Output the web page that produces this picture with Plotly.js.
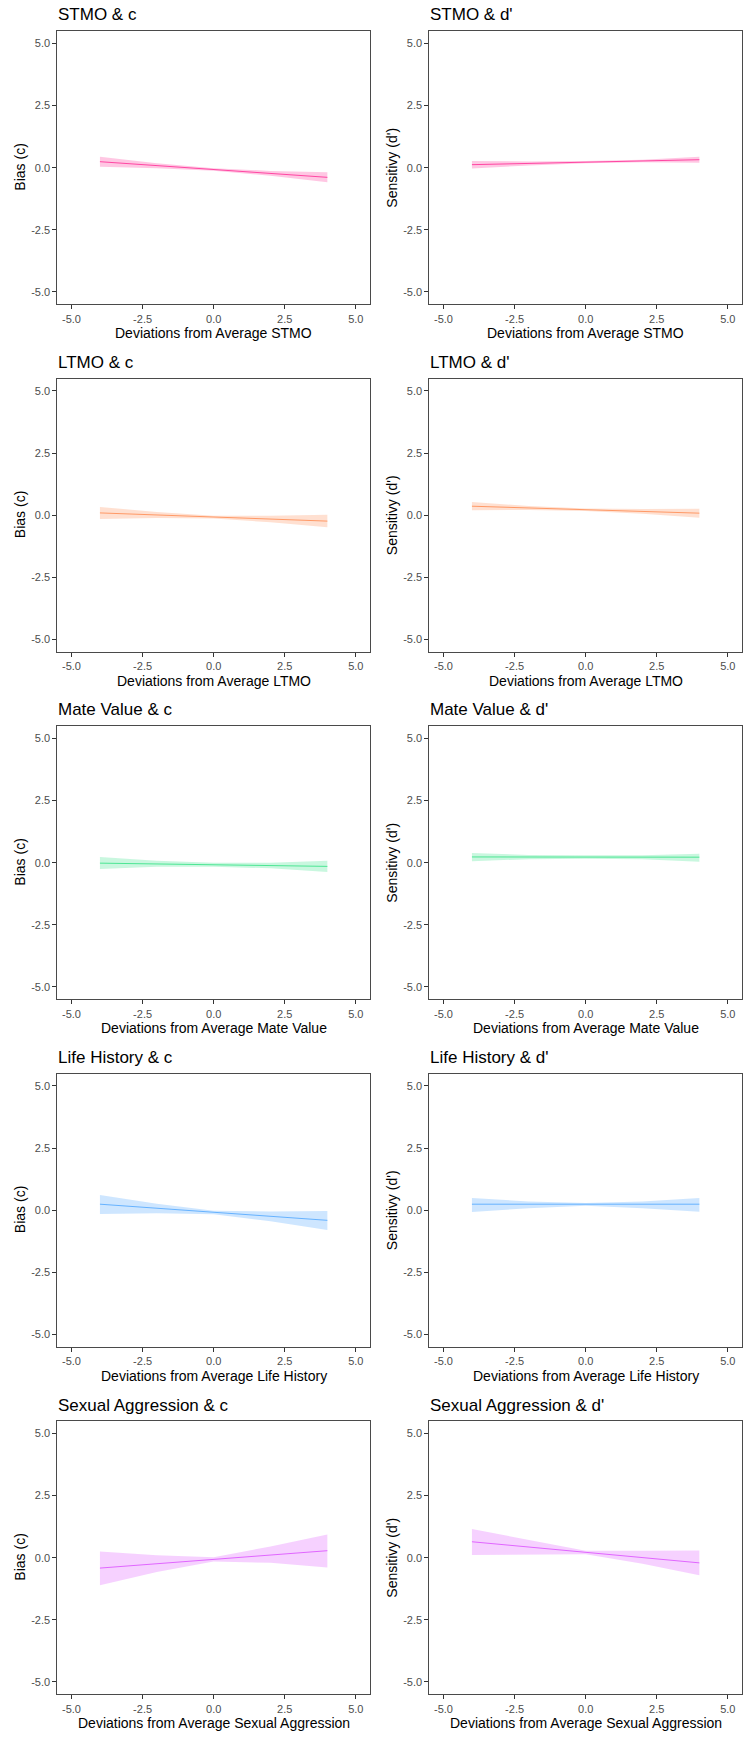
<!DOCTYPE html>
<html>
<head>
<meta charset="utf-8">
<script src="https://cdn.plot.ly/plotly-3.0.1.min.js"></script>
<style>body{margin:0;background:#fff}#chart{width:744px;height:1742px}</style>
</head>
<body>
<div id="chart"></div>
<script>
// ---- data ----
const xGrid = [-4, -2, 0, 2, 4];
const predictors = ["STMO", "LTMO", "Mate Value", "Life History", "Sexual Aggression"];
const outcomes = ["c", "d'"];
const yTitles = ["Bias (c)", "Sensitivy (d')"];
const tickVals = [-5, -2.5, 0, 2.5, 5];
const tickText = ["-5.0", "-2.5", "0.0", "2.5", "5.0"];

// STMO
const stmoC_fit = [0.24, 0.08, -0.07, -0.23, -0.39];
const stmoC_hi  = [0.44, 0.18, -0.02, -0.13, -0.19];
const stmoC_lo  = [0.04, -0.02, -0.12, -0.33, -0.59];
const stmoD_fit = [0.12, 0.17, 0.22, 0.27, 0.32];
const stmoD_hi  = [0.27, 0.25, 0.27, 0.32, 0.44];
const stmoD_lo  = [-0.03, 0.09, 0.18, 0.22, 0.20];
// LTMO
const ltmoC_fit = [0.09, 0.01, -0.07, -0.15, -0.24];
const ltmoC_hi  = [0.33, 0.13, -0.02, -0.02, 0.02];
const ltmoC_lo  = [-0.15, -0.11, -0.13, -0.29, -0.49];
const ltmoD_fit = [0.36, 0.29, 0.22, 0.15, 0.08];
const ltmoD_hi  = [0.53, 0.37, 0.27, 0.25, 0.26];
const ltmoD_lo  = [0.20, 0.21, 0.17, 0.06, -0.10];
// Mate Value
const mvC_fit = [-0.02, -0.05, -0.08, -0.12, -0.15];
const mvC_hi  = [0.23, 0.08, 0.00, 0.00, 0.08];
const mvC_lo  = [-0.26, -0.17, -0.16, -0.23, -0.38];
const mvD_fit = [0.23, 0.23, 0.23, 0.22, 0.22];
const mvD_hi  = [0.39, 0.31, 0.30, 0.30, 0.36];
const mvD_lo  = [0.06, 0.14, 0.16, 0.14, 0.04];
// Life History
const lhC_fit = [0.24, 0.08, -0.09, -0.25, -0.41];
const lhC_hi  = [0.61, 0.26, -0.02, -0.05, -0.03];
const lhC_lo  = [-0.15, -0.12, -0.16, -0.45, -0.80];
const lhD_fit = [0.24, 0.24, 0.24, 0.24, 0.24];
const lhD_hi  = [0.49, 0.35, 0.29, 0.35, 0.49];
const lhD_lo  = [-0.07, 0.08, 0.18, 0.08, -0.06];
// Sexual Aggression
const saC_fit = [-0.42, -0.24, -0.07, 0.11, 0.28];
const saC_hi  = [0.25, 0.10, 0.02, 0.45, 0.93];
const saC_lo  = [-1.11, -0.58, -0.15, -0.21, -0.40];
const saD_fit = [0.64, 0.42, 0.21, 0.00, -0.21];
const saD_hi  = [1.15, 0.70, 0.28, 0.28, 0.29];
const saD_lo  = [0.11, 0.14, 0.14, -0.25, -0.71];

const lineColors = ["#FF47A3", "#FF9966", "#4DE694", "#66B2FF", "#E066FF"];
const fillColors = ["rgba(255,71,163,0.30)", "rgba(255,153,102,0.30)", "rgba(77,230,148,0.30)", "rgba(102,178,255,0.32)", "rgba(224,102,255,0.30)"];

const panels = [
  [stmoC_fit, stmoC_hi, stmoC_lo], [stmoD_fit, stmoD_hi, stmoD_lo],
  [ltmoC_fit, ltmoC_hi, ltmoC_lo], [ltmoD_fit, ltmoD_hi, ltmoD_lo],
  [mvC_fit, mvC_hi, mvC_lo], [mvD_fit, mvD_hi, mvD_lo],
  [lhC_fit, lhC_hi, lhC_lo], [lhD_fit, lhD_hi, lhD_lo],
  [saC_fit, saC_hi, saC_lo], [saD_fit, saD_hi, saD_lo]
];

// ---- layout geometry (px) ----
const W = 744, H = 1742;
const colLeft = [57.3, 429.3], colW = 312.7;
const rowTop0 = 31, rowPitch = 347.5, panelH = 273.3;
const FONT = "Liberation Sans, Arial, sans-serif";

const traces = [];
const layout = {
  width: W, height: H,
  margin: {l: 0, r: 0, t: 0, b: 0},
  paper_bgcolor: "#fff", plot_bgcolor: "#fff",
  showlegend: false,
  font: {family: FONT},
  annotations: []
};

panels.forEach((p, i) => {
  const row = Math.floor(i / 2), col = i % 2;
  const n = i + 1;
  const xa = n === 1 ? "x" : "x" + n, ya = n === 1 ? "y" : "y" + n;
  const fit = p[0], hi = p[1], lo = p[2];
  const lc = lineColors[row], fc = fillColors[row];

  traces.push({
    type: "scatter", mode: "lines", xaxis: xa, yaxis: ya,
    x: xGrid.concat(xGrid.slice().reverse()),
    y: hi.concat(lo.slice().reverse()),
    fill: "toself", fillcolor: fc, line: {width: 0}, hoverinfo: "skip"
  });
  traces.push({
    type: "scatter", mode: "lines", xaxis: xa, yaxis: ya,
    x: xGrid, y: fit, line: {color: lc, width: 1}
  });

  const left = colLeft[col], top = rowTop0 + row * rowPitch;
  const axBase = {
    range: [-5.5, 5.5], tickvals: tickVals, ticktext: tickText,
    showgrid: false, zeroline: false, showline: true, mirror: true,
    linecolor: "#4a4a4a", linewidth: 1,
    ticks: "outside", ticklen: 4, tickwidth: 1, tickcolor: "#333",
    tickfont: {family: FONT, size: 11, color: "#4d4d4d"},
    fixedrange: true
  };
  layout["xaxis" + (n === 1 ? "" : n)] = Object.assign({}, axBase, {
    domain: [left / W, (left + colW) / W], anchor: ya
  });
  layout["yaxis" + (n === 1 ? "" : n)] = Object.assign({}, axBase, {
    domain: [1 - (top + panelH) / H, 1 - top / H], anchor: xa
  });

  // panel title
  layout.annotations.push({
    xref: "paper", yref: "paper", x: (left - 1) / W, y: 1 - (top - 16) / H,
    xanchor: "left", yanchor: "middle", showarrow: false,
    text: predictors[row] + " &amp; " + outcomes[col],
    font: {family: FONT, size: 17, color: "#000"}
  });
  // x-axis title
  layout.annotations.push({
    xref: "paper", yref: "paper", x: (left + colW / 2) / W, y: 1 - (top + panelH + 29) / H,
    xanchor: "center", yanchor: "middle", showarrow: false,
    text: "Deviations from Average " + predictors[row],
    font: {family: FONT, size: 14, color: "#000"}
  });
  // y-axis title
  layout.annotations.push({
    xref: "paper", yref: "paper", x: (col * 372 + 20) / W, y: 1 - (top + panelH / 2) / H,
    xanchor: "center", yanchor: "middle", showarrow: false, textangle: -90,
    text: yTitles[col],
    font: {family: FONT, size: 14, color: "#000"}
  });
});

Plotly.newPlot("chart", traces, layout, {displayModeBar: false, staticPlot: true});
</script>
</body>
</html>
